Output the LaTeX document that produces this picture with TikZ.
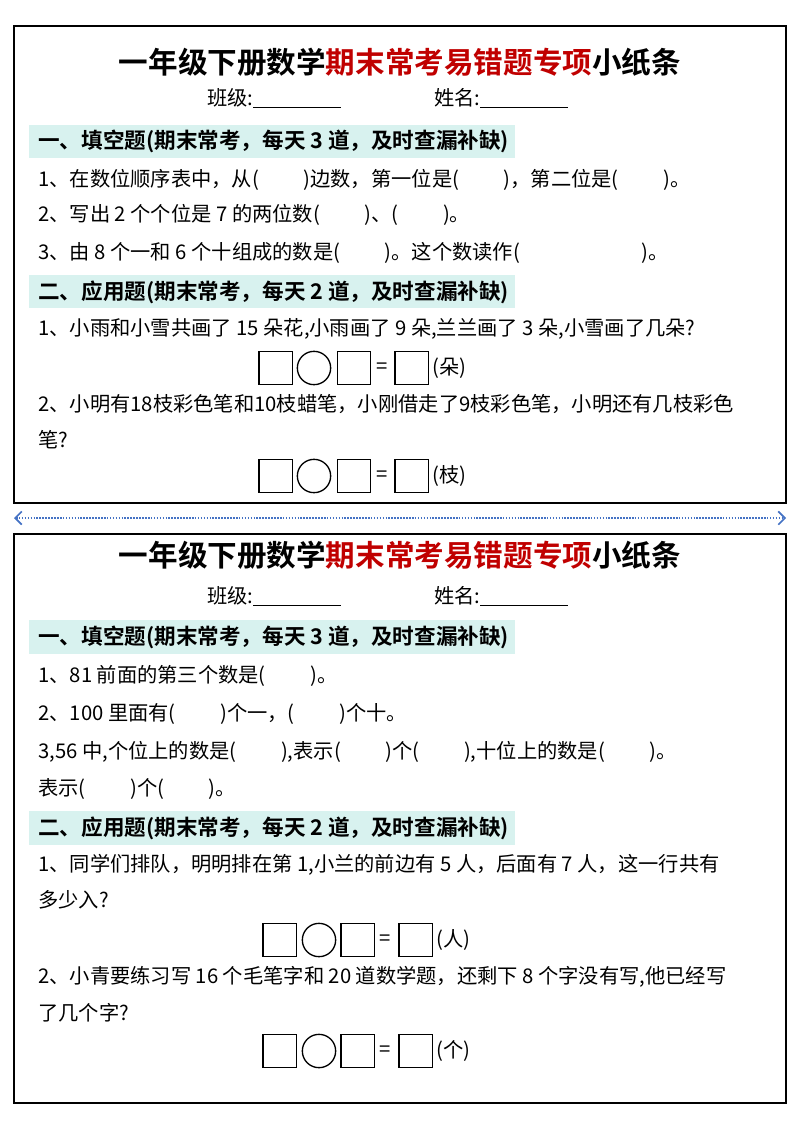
\documentclass[tikz,border=0pt]{standalone}
\usepackage{fontspec}
\setmainfont{Noto Sans CJK SC}
\newfontfamily\tfont{Noto Sans CJK SC Bold}
\usetikzlibrary{arrows.meta}
\definecolor{band}{HTML}{D8F2EF}
\definecolor{tred}{HTML}{C00000}
\definecolor{dblue}{HTML}{4472C4}
\newcommand{\gap}[1]{\hspace*{#1em}}
\begin{document}
\begin{tikzpicture}[x=0.75pt,y=-0.75pt,
  txt/.style={anchor=west,inner sep=0pt,font=\fontsize{15.2}{17}\selectfont},
  head/.style={anchor=west,inner sep=0pt,font=\tfont\fontsize{16.2}{18}\selectfont},
  ttl/.style={inner sep=0pt,font=\tfont\fontsize{22.2}{24}\selectfont},
  frame/.style={draw,line width=1.8pt},
  bx/.style={draw,line width=1pt,minimum size=25pt,inner sep=0pt},
  cir/.style={draw,line width=1pt,circle,minimum size=25pt,inner sep=0pt}]
\useasboundingbox (0,0) rectangle (800,1132);
% frames
\draw[frame] (14,26) rectangle (786,503);
\draw[frame] (14,534) rectangle (786,1103);
\coordinate (al) at (14,518); \coordinate (ar) at (786,518);
\draw[dblue,densely dotted,line width=1.2pt,{Straight Barb[length=5pt]}-{Straight Barb[length=5pt]}] (al) -- (ar);
% ---------- top ----------
\node[ttl] (t1) at (400,62) {一年级下册数学\textcolor{tred}{期末常考易错题专项}小纸条};
\node[txt] (c1) at (207,98) {班级:\underline{\hspace*{66pt}}};
\node[txt] (n1) at (434,98) {姓名:\underline{\hspace*{66pt}}};
\fill[band] (29,125) rectangle (515,158);
\node[head] (h1) at (38,141) {一、填空题(期末常考，每天 3 道，及时查漏补缺)};
\node[txt] (a1) at (38,180) {1、在数位顺序表中，从(\gap{2.2})边数，第一位是(\gap{2.2})，第二位是(\gap{2.2})。};
\node[txt] (a2) at (38,215) {2、写出 2 个个位是 7 的两位数(\gap{2.2})、(\gap{2.2})。};
\node[txt] (a3) at (38,253) {3、由 8 个一和 6 个十组成的数是(\gap{2.2})。这个数读作(\gap{6})。};
\fill[band] (29,275) rectangle (515,308);
\node[head] (h2) at (38,292) {二、应用题(期末常考，每天 2 道，及时查漏补缺)};
\node[txt] (b1) at (38,329) {1、小雨和小雪共画了 15 朵花,小雨画了 9 朵,兰兰画了 3 朵,小雪画了几朵?};
\node[bx] (s1) at (275.5,368) {}; \node[cir] (o1) at (314,368) {}; \node[bx] (s2) at (354,368) {};
\node[txt,anchor=center] (e1) at (382,368) {=}; \node[bx] (s3) at (411.5,368) {};
\node[txt] (u1) at (432,368) {(朵)};
\node[txt] (b2) at (38,404) {2、小明有18枝彩色笔和10枝蜡笔，小刚借走了9枝彩色笔，小明还有几枝彩色};
\node[txt] (b2b) at (38,440) {笔?};
\node[bx] (s4) at (275.5,476) {}; \node[cir] (o2) at (314,476) {}; \node[bx] (s5) at (354,476) {};
\node[txt,anchor=center] (e2) at (382,476) {=}; \node[bx] (s6) at (411.5,476) {};
\node[txt] (u2) at (432,476) {(枝)};
% ---------- bottom ----------
\node[ttl] (t2) at (400,555) {一年级下册数学\textcolor{tred}{期末常考易错题专项}小纸条};
\node[txt] (c2) at (207,596) {班级:\underline{\hspace*{66pt}}};
\node[txt] (n2) at (434,596) {姓名:\underline{\hspace*{66pt}}};
\fill[band] (29,620) rectangle (515,654);
\node[head] (h3) at (38,637) {一、填空题(期末常考，每天 3 道，及时查漏补缺)};
\node[txt] (d1) at (38,676) {1、81 前面的第三个数是(\gap{2.2})。};
\node[txt] (d2) at (38,714) {2、100 里面有(\gap{2.2})个一，(\gap{2.2})个十。};
\node[txt] (d3) at (38,752) {3,56 中,个位上的数是(\gap{2.2}),表示(\gap{2.2})个(\gap{2.2}),十位上的数是(\gap{2.2})。};
\node[txt] (d4) at (38,789) {表示(\gap{2.2})个(\gap{2.2})。};
\fill[band] (29,811) rectangle (515,845);
\node[head] (h4) at (38,828) {二、应用题(期末常考，每天 2 道，及时查漏补缺)};
\node[txt] (f1) at (38,865) {1、同学们排队，明明排在第 1,小兰的前边有 5 人，后面有 7 人，这一行共有};
\node[txt] (f1b) at (38,900) {多少入?};
\node[bx] (r1) at (279.5,940) {}; \node[cir] (p1) at (319,940) {}; \node[bx] (r2) at (357.5,940) {};
\node[txt,anchor=center] (g1) at (385,940) {=}; \node[bx] (r3) at (415.5,940) {};
\node[txt] (v1) at (436,940) {(人)};
\node[txt] (f2) at (38,977) {2、小青要练习写 16 个毛笔字和 20 道数学题，还剩下 8 个字没有写,他已经写};
\node[txt] (f2b) at (38,1013) {了几个字?};
\node[bx] (r4) at (279.5,1051) {}; \node[cir] (p2) at (319,1051) {}; \node[bx] (r5) at (357.5,1051) {};
\node[txt,anchor=center] (g2) at (385,1051) {=}; \node[bx] (r6) at (415.5,1051) {};
\node[txt] (v2) at (436,1051) {(个)};
\end{tikzpicture}
\end{document}
